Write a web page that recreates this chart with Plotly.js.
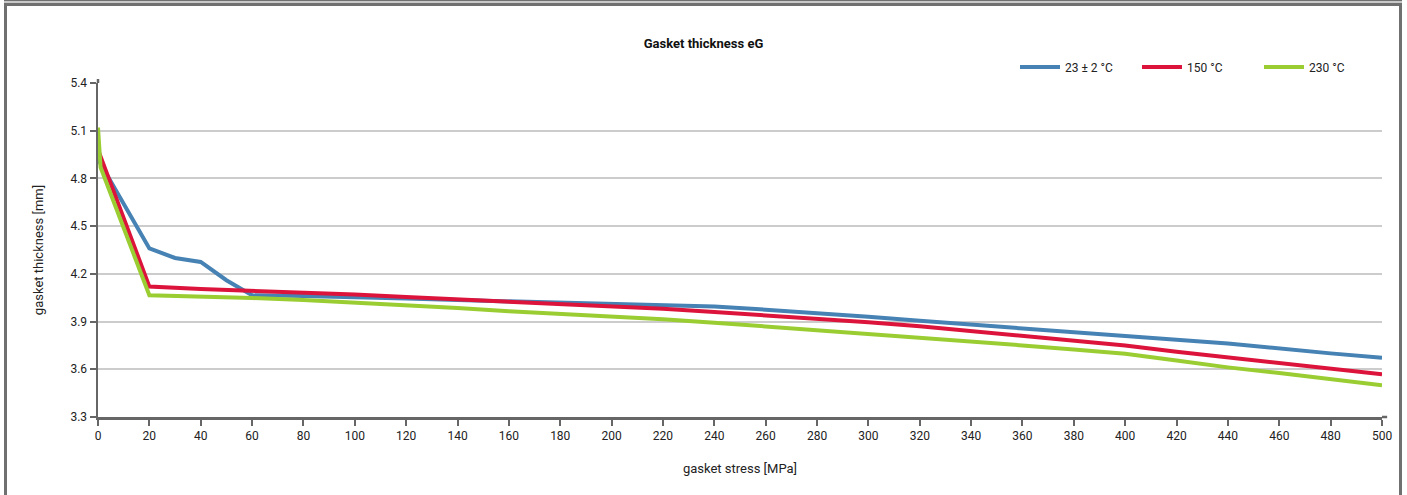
<!DOCTYPE html>
<html>
<head>
<meta charset="utf-8">
<script src="https://cdn.plot.ly/plotly-3.0.1.min.js"></script>
<style>
  html, body { margin: 0; padding: 0; background: #fff; }
  #wrap { position: relative; width: 1407px; height: 495px; overflow: hidden; }
  #chart { position: absolute; left: 0; top: 0; width: 1407px; height: 495px; }
  .fr { position: absolute; pointer-events: none; }
</style>
</head>
<body>
<div id="wrap">
  <div id="chart"></div>
  <div class="fr" style="left:4px;top:0px;width:1398px;height:1px;background:#707070;"></div>
  <div class="fr" style="left:4px;top:1px;width:1398px;height:2px;background:#c8c8c8;"></div>
  <div class="fr" style="left:4px;top:3px;width:1392px;height:520px;border:3px solid #707070;border-bottom:none;"></div>
</div>
<script>
// ---- data ----
const stressBlue  = [0, 20, 30, 40, 50, 60, 80, 100, 120, 140, 160, 180, 200, 220, 240, 260, 280, 300, 320, 340, 360, 380, 400, 420, 440, 460, 480, 500];
const thickBlue   = [4.92, 4.36, 4.30, 4.275, 4.16, 4.065, 4.06, 4.055, 4.045, 4.035, 4.028, 4.02, 4.013, 4.005, 3.995, 3.975, 3.955, 3.93, 3.905, 3.88, 3.855, 3.83, 3.805, 3.785, 3.762, 3.728, 3.70, 3.673];

const stressRed   = [0, 20, 40, 60, 80, 100, 120, 140, 160, 180, 200, 220, 240, 260, 280, 300, 320, 340, 360, 380, 400, 420, 440, 460, 480, 500];
const thickRed    = [4.98, 4.12, 4.105, 4.095, 4.08, 4.07, 4.055, 4.04, 4.025, 4.01, 3.998, 3.98, 3.96, 3.94, 3.92, 3.895, 3.87, 3.84, 3.81, 3.78, 3.75, 3.71, 3.673, 3.636, 3.60, 3.568];

const stressGreen = [0, 1, 20, 40, 60, 80, 100, 120, 140, 160, 180, 200, 220, 240, 260, 280, 300, 320, 340, 360, 380, 400, 420, 440, 460, 480, 500];
const thickGreen  = [5.12, 4.87, 4.065, 4.058, 4.048, 4.035, 4.02, 4.0, 3.985, 3.965, 3.95, 3.933, 3.915, 3.893, 3.87, 3.848, 3.825, 3.8, 3.775, 3.75, 3.725, 3.697, 3.655, 3.612, 3.576, 3.54, 3.499];

const seriesNames = ["23 ± 2 °C", "150 °C", "230 °C"];
const xTicks = [0, 20, 40, 60, 80, 100, 120, 140, 160, 180, 200, 220, 240, 260, 280, 300, 320, 340, 360, 380, 400, 420, 440, 460, 480, 500];
const yTicks = [3.3, 3.6, 3.9, 4.2, 4.5, 4.8, 5.1, 5.4];

const colors = ["#4682b4", "#dc143c", "#9acd32"];

const traces = [
  {x: stressBlue, y: thickBlue, name: seriesNames[0]},
  {x: stressRed, y: thickRed, name: seriesNames[1]},
  {x: stressGreen, y: thickGreen, name: seriesNames[2]}
].map((t, i) => Object.assign(t, {
  type: 'scatter', mode: 'lines',
  line: {color: colors[i], width: 4},
  hoverinfo: 'x+y+name'
}));

const font = "Roboto, 'Noto Sans', Arial, sans-serif";

const layout = {
  width: 1407, height: 495,
  margin: {l: 98, r: 25, t: 83, b: 78},
  paper_bgcolor: '#ffffff', plot_bgcolor: '#ffffff',
  font: {family: font, size: 12, color: '#222'},
  title: {text: '<b>Gasket thickness eG</b>', x: 0.5, xref: 'container', xanchor: 'center',
          y: 1 - 43/495, yref: 'container', yanchor: 'middle',
          font: {family: font, size: 13, color: '#111'}},
  showlegend: true,
  legend: {orientation: 'h', x: (1015 - 98) / 1284, xanchor: 'left', y: 1 + (83 - 67) / 334, yanchor: 'middle',
           font: {family: font, size: 12, color: '#222'}, itemwidth: 40,
           entrywidth: 67, entrywidthmode: 'pixels', bgcolor: 'rgba(0,0,0,0)', traceorder: 'normal'},
  xaxis: {
    range: [0, 500], tickmode: 'array', tickvals: xTicks, ticktext: xTicks.map(String),
    showline: true, linecolor: '#666', linewidth: 2.5,
    ticks: 'outside', ticklen: 6, tickwidth: 2, tickcolor: '#666',
    showgrid: false, zeroline: false,
    tickfont: {family: font, size: 12, color: '#222'},
    title: {text: 'gasket stress [MPa]', font: {family: font, size: 13, color: '#222'}, standoff: 22}
  },
  yaxis: {
    range: [3.3, 5.4], tickmode: 'array', tickvals: yTicks, ticktext: yTicks.map(v => v.toFixed(1)),
    showline: true, linecolor: '#666', linewidth: 2.5,
    ticks: 'outside', ticklen: 6, tickwidth: 2, tickcolor: '#666',
    showgrid: true, gridcolor: '#cccccc', gridwidth: 2, zeroline: false,
    tickfont: {family: font, size: 12, color: '#222'},
    title: {text: 'gasket thickness [mm]', font: {family: font, size: 13, color: '#222'}, standoff: 24}
  },
  shapes: [
    {type: 'line', xref: 'paper', yref: 'paper', x0: 1, x1: 1.004, y0: 0, y1: 0, line: {color: '#666', width: 2.5}},
    {type: 'line', xref: 'paper', yref: 'paper', x0: 0, x1: 0, y0: 1, y1: 1.012, line: {color: '#666', width: 2.5}}
  ]
};

Plotly.newPlot('chart', traces, layout, {displayModeBar: false, staticPlot: true});
</script>
</body>
</html>
